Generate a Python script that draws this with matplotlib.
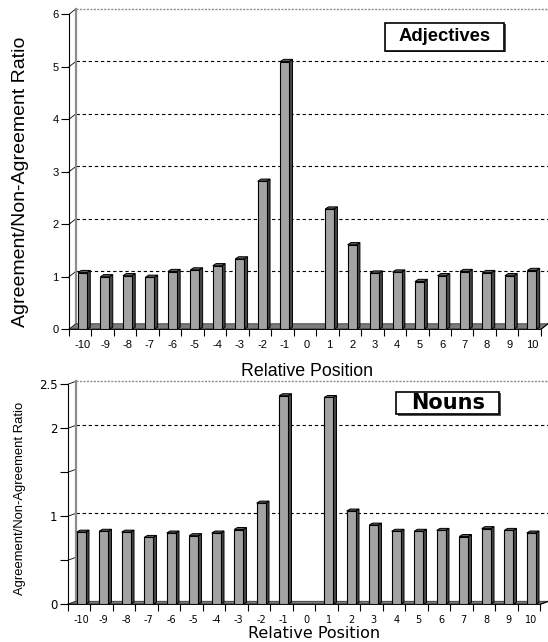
# -*- coding: UTF-8 -*-
# Agreement/Non-Agreement ratio per relative position, adjectives and nouns (pseudo 3D bars)

import numpy as np
import matplotlib
matplotlib.use('Agg')
import matplotlib.pyplot as plt
from matplotlib.patches import Polygon, Rectangle

# Data
positions = list(range(-10, 11))
adjectives = [1.08, 1.00, 1.02, 0.99, 1.10, 1.13, 1.21, 1.34, 2.82, 5.10, np.nan,
              2.29, 1.61, 1.07, 1.09, 0.91, 1.02, 1.10, 1.08, 1.02, 1.12]
nouns = [0.82, 0.83, 0.82, 0.76, 0.81, 0.78, 0.81, 0.85, 1.15, 2.37, np.nan,
         2.35, 1.06, 0.90, 0.83, 0.83, 0.84, 0.77, 0.86, 0.84, 0.81]
adj_yticks = [0, 1, 2, 3, 4, 5, 6]
adj_yticklabels = ['0', '1', '2', '3', '4', '5', '6']
noun_yticks = [0, 0.5, 1, 1.5, 2, 2.5]
noun_yticklabels = ['0', '', '1', '', '2', '2.5']
x_label = 'Relative Position'
y_label = 'Agreement/Non-Agreement Ratio'

# General variables
W, H = 548, 642
face_color = '#a3a3a3'
side_color = '#464646'
top_color = '#5e5e5e'
floor_color = '#7c7c7c'
bar_width = 0.4
bar_shift = 0.1


def fx(px):
    return px / W


def fy(py):
    return 1 - py / H


def draw_panel(ax, values, yticks, yticklabels, wall_dx, wall_dy, bar_dx, bar_dy, tick_font, tick_size, xtick_size):
    n = len(values)
    x = np.arange(n) + bar_shift
    ytop = yticks[-1]
    x0, x1 = -0.5, n - 0.5
    # Back wall: left edge, dashed gridlines and dotted top border
    xmax = ax.get_xlim()[1]
    ax.plot([x0 + wall_dx, x0 + wall_dx], [wall_dy, ytop + wall_dy], color='#8c8c8c', lw=1.6, zorder=1, clip_on=False)
    for v in yticks[1:-1]:
        if yticklabels[yticks.index(v)] == '':
            continue
        ax.plot([x0 + wall_dx, xmax], [v + wall_dy, v + wall_dy], color='black', lw=0.8, ls=(0, (3, 2.5)), zorder=0.5)
    ax.plot([x0 + wall_dx, xmax], [ytop + wall_dy, ytop + wall_dy], color='#8c8c8c', lw=1.0, ls=(0, (1.5, 1)), zorder=0.5, clip_on=False)
    # Side wall diagonals at each tick
    for v in yticks:
        ax.plot([x0, x0 + wall_dx], [v, v + wall_dy], color='black', lw=0.6, zorder=0.6, clip_on=False)
    # Floor
    floor = Polygon([[x0, 0], [x1, 0], [x1 + wall_dx, wall_dy], [x0 + wall_dx, wall_dy]],
                    closed=True, facecolor=floor_color, edgecolor='#333333', lw=0.6, zorder=1, clip_on=False)
    ax.add_patch(floor)
    ax.plot([x0, x1, x1 + wall_dx], [0, 0, wall_dy], color='black', lw=0.8, zorder=1.2, clip_on=False)
    # Bars: front face, side and top
    for xi, v in zip(x, values):
        if np.isnan(v):
            continue
        left, right = xi - bar_width / 2, xi + bar_width / 2
        ax.add_patch(Polygon([[right, 0], [right + bar_dx, bar_dy], [right + bar_dx, v + bar_dy], [right, v]],
                             closed=True, facecolor=side_color, edgecolor='black', lw=0.7, zorder=3))
        ax.add_patch(Polygon([[left, v], [right, v], [right + bar_dx, v + bar_dy], [left + bar_dx, v + bar_dy]],
                             closed=True, facecolor=top_color, edgecolor='black', lw=0.7, zorder=3))
    ax.bar(x[~np.isnan(values)], np.array(values)[~np.isnan(values)], width=bar_width, color=face_color,
           edgecolor='black', linewidth=0.8, zorder=4)
    # Axes look
    for s in ['top', 'right']:
        ax.spines[s].set_visible(False)
    ax.spines['left'].set_bounds(0, ytop)
    ax.spines['bottom'].set_visible(False)
    ax.spines['left'].set_linewidth(0.8)
    ax.set_yticks(yticks)
    ax.set_yticklabels(yticklabels, fontfamily=tick_font, fontsize=tick_size)
    ax.tick_params(axis='y', direction='out', length=6, width=0.8, pad=1.5)
    ax.set_xticks(np.arange(n + 1) - 0.5)
    ax.set_xticklabels([])
    ax.tick_params(axis='x', which='major', direction='out', length=5, width=0.8)
    ax.set_xticks(x, minor=True)
    ax.set_xticklabels([str(p) for p in positions], minor=True, fontfamily=tick_font, fontsize=xtick_size)
    ax.tick_params(axis='x', which='minor', length=0, pad=8)
    ax.set_facecolor('none')


fig = plt.figure(figsize=(W / 100, H / 100), dpi=100)

# Adjectives panel
top_left, top_zero, top_scale, top_step = 69, 329.3, 52.5, 22.47
top_ylim = 6.12
ax1 = fig.add_axes([fx(top_left), fy(top_zero), fx(W - top_left), top_ylim * top_scale / H])
ax1.set_xlim(-0.5, -0.5 + (W - top_left) / top_step)
ax1.set_ylim(0, top_ylim)
draw_panel(ax1, adjectives, adj_yticks, adj_yticklabels, 7 / top_step, 5.5 / top_scale, 3.3 / top_step, 2.2 / top_scale,
           'Liberation Sans', 8, 8)

# Nouns panel
bot_left, bot_zero, bot_scale, bot_step = 67.7, 604.3, 88.0, 22.5
bot_ylim = 2.55
ax2 = fig.add_axes([fx(bot_left), fy(bot_zero), fx(W - bot_left), bot_ylim * bot_scale / H])
ax2.set_xlim(-0.5, -0.5 + (W - bot_left) / bot_step)
ax2.set_ylim(0, bot_ylim)
draw_panel(ax2, nouns, noun_yticks, noun_yticklabels, 8.3 / bot_step, 3.0 / bot_scale, 3.3 / bot_step, 2.0 / bot_scale,
           'DejaVu Sans', 8.5, 7)

# Axis titles
fig.text(fx(21), fy(181.7), y_label, rotation=90, ha='center', va='center', fontfamily='Liberation Sans', fontsize=14)
fig.text(fx(307), fy(371), x_label, ha='center', va='center', fontfamily='Liberation Sans', fontsize=12.8)
fig.text(fx(20), fy(498.3), y_label, rotation=90, ha='center', va='center', fontfamily='Liberation Sans', fontsize=9.4)
fig.text(fx(314), fy(633.5), x_label, ha='center', va='center', fontfamily='DejaVu Sans', fontsize=11.5)

# Panel name boxes
for (bx0, by0, bx1, by1, name, font, size) in [(384.5, 22.7, 504, 50.7, 'Adjectives', 'Liberation Sans', 13.3),
                                                (396, 391.7, 499.3, 414.3, 'Nouns', 'DejaVu Sans', 15)]:
    fig.add_artist(Rectangle((fx(bx0 + 1.5), fy(by1 + 1.5)), fx(bx1 - bx0), (by1 - by0) / H,
                             transform=fig.transFigure, facecolor='#555555', edgecolor='none', zorder=5))
    fig.add_artist(Rectangle((fx(bx0), fy(by1)), fx(bx1 - bx0), (by1 - by0) / H, transform=fig.transFigure,
                             facecolor='white', edgecolor='black', lw=1.2, zorder=6))
    fig.text(fx((bx0 + bx1) / 2), fy((by0 + by1) / 2), name, ha='center', va='center', fontfamily=font,
             fontsize=size, fontweight='bold', zorder=7)

fig.savefig('out.png', dpi=100)
